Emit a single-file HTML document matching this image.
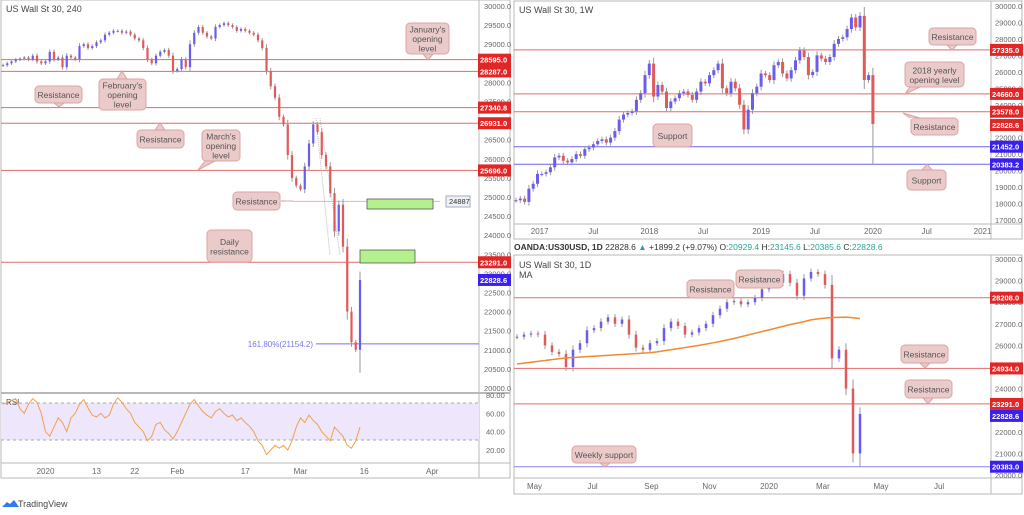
<!DOCTYPE html>
<html><head><meta charset="utf-8"><style>
body{margin:0;background:#fff;width:1024px;height:510px;overflow:hidden;font-family:"Liberation Sans",sans-serif}
svg text{font-family:"Liberation Sans",sans-serif}
</style></head><body>
<svg id="s" width="1024" height="510" viewBox="0 0 1024 510" xmlns="http://www.w3.org/2000/svg">
<rect width="1024" height="510" fill="#fff"/>
<g id="left">
  <rect x="1" y="0" width="509" height="478" fill="none" stroke="#b9b9b9"/>
  <line x1="479" y1="0" x2="479" y2="478" stroke="#b9b9b9"/>
  <line x1="1" y1="393" x2="510" y2="393" stroke="#b9b9b9" stroke-width="2"/>
  <line x1="1" y1="463" x2="510" y2="463" stroke="#b9b9b9"/>
  <rect x="1" y="403" width="478" height="37" fill="#eee6fb"/>
  <line x1="1" y1="403" x2="479" y2="403" stroke="#aaa" stroke-dasharray="3,3"/>
  <line x1="1" y1="440" x2="479" y2="440" stroke="#aaa" stroke-dasharray="3,3"/>
  <text x="6" y="12" font-size="9" fill="#444">US Wall St 30, 240</text>
  <text x="6" y="405" font-size="8" fill="#555">RSI</text>
</g>
<g id="tr">
  <rect x="514" y="1" width="508" height="238" fill="none" stroke="#b9b9b9"/>
  <line x1="991" y1="1" x2="991" y2="239" stroke="#b9b9b9"/>
  <line x1="514" y1="224" x2="1022" y2="224" stroke="#b9b9b9"/>
  <text x="519" y="13" font-size="9" fill="#444">US Wall St 30, 1W</text>
</g>
<g id="br">
  <text x="514" y="250" font-size="8.5" font-weight="bold" fill="#333">OANDA:US30USD, 1D <tspan font-weight="normal">22828.6 </tspan><tspan fill="#26a69a" font-weight="normal">▲</tspan><tspan font-weight="normal"> +1899.2 (+9.07%) O:</tspan><tspan fill="#26a69a" font-weight="normal">20929.4</tspan><tspan font-weight="normal"> H:</tspan><tspan fill="#26a69a" font-weight="normal">23145.6</tspan><tspan font-weight="normal"> L:</tspan><tspan fill="#26a69a" font-weight="normal">20385.6</tspan><tspan font-weight="normal"> C:</tspan><tspan fill="#26a69a" font-weight="normal">22828.6</tspan></text>
  <rect x="514" y="255" width="508" height="239" fill="none" stroke="#b9b9b9"/>
  <line x1="991" y1="255" x2="991" y2="494" stroke="#b9b9b9"/>
  <line x1="514" y1="478" x2="1022" y2="478" stroke="#b9b9b9"/>
  <text x="519" y="268" font-size="9" fill="#444">US Wall St 30, 1D</text>
  <text x="519" y="278" font-size="9" fill="#444">MA</text>
</g>
<g>
  <path d="M2 507 l5-5 3 2 4-4 5 7z" fill="#3179f5"/>
  <text x="18" y="507" font-size="9" fill="#444">TradingView</text>
</g>
</svg>
<script>
// ---------- data ----------
const h4Closes=[28450,28500,28550,28600,28620,28650,28600,28700,28550,28500,
28550,28800,28600,28650,28400,28700,28650,28600,28950,29000,
28900,28950,29050,29100,29250,29300,29350,29350,29300,29330,
29250,29150,29100,28900,28600,28500,28700,28800,28850,28700,28300,
28350,28600,28400,29000,29300,29450,29300,29200,29150,29450,
29500,29550,29500,29450,29350,29400,29350,29300,29250,29100,
28900,28300,27900,27600,27100,26900,26100,25500,25300,
25200,25800,26400,26900,26700,26100,25800,25100,24100,24800,23700,22000,21200,21000,22828];
const h4Rsi=[70,72,74,76,65,60,70,76,72,60,
40,35,45,55,50,40,55,60,70,75,
66,58,56,60,55,58,70,77,72,65,
60,50,45,40,30,35,48,50,42,38,32,
40,50,60,70,75,68,62,58,55,62,
65,60,56,58,52,55,50,46,40,30,
25,15,20,25,22,25,20,30,45,
55,50,58,52,48,40,35,30,45,40,35,25,22,30,45];
const h4Ticks=[20000,20500,21000,21500,22000,22500,23000,23500,24000,24500,25000,25500,26000,26500,27000,27500,28000,28500,29000,29500,30000];
const h4Levels=[28595,28287,27340,26931,25696,23291];
const h4TimeLabels=["2020","13","22","Feb","17","Mar","16","Apr"];
const h4TimeIdx=[10,22,31,41,57,70,85,101];
const rsiTicks=[20,40,60,80];

const wkCloses=[18200,18300,18100,18900,19200,19800,19800,19900,20200,20800,20900,20600,20500,20700,21000,20900,21300,21400,21600,21800,21900,21700,22000,22400,23100,23400,23500,23600,24300,24700,25800,26500,24500,25200,24800,23800,24200,24400,24700,24800,24600,24300,24800,25400,25300,25800,26100,26500,25000,24700,25400,25000,24000,22500,23700,24700,25100,25900,25800,25500,26400,26600,25900,25600,26100,26700,27300,26900,25800,26000,27000,26800,26600,26900,27700,28000,28100,28600,29300,28700,29400,25500,25800,22828];
const wkTicks=[17000,18000,19000,20000,21000,22000,23000,24000,25000,26000,27000,28000,29000,30000];
const wkLevelsRed=[27335,24660,23578];
const wkLevelsBlue=[21452,20383.2];
const wkTimeLabels=["2017","Jul","2018","Jul","2019","Jul","2020","Jul","2021"];
const wkTimeIdx=[5.5,18,31,43.5,57,69.5,83,95.5,108.5];

const dCloses=[26400,26500,26550,26500,26000,25700,25600,25000,25800,26100,26700,26800,27100,27300,27000,27200,26500,25900,25800,26100,26200,26800,27100,26900,26500,26600,26800,27000,27400,27700,28000,28050,27900,28000,28200,28600,28800,28900,29300,28900,28300,29100,29400,29300,28800,25400,25800,24000,21000,22828];
const dMA=[25140,25180,25220,25260,25300,25340,25380,25420,25440,25460,25480,25500,25520,25540,25560,25580,25600,25620,25640,25660,25700,25750,25800,25850,25900,25950,26000,26060,26120,26180,26250,26320,26400,26480,26560,26640,26720,26800,26880,26960,27030,27100,27180,27230,27260,27290,27300,27310,27280,27240];
const dTicks=[20000,21000,22000,23000,24000,25000,26000,27000,28000,29000,30000];
const dTimeLabels=["May","Jul","Sep","Nov","2020","Mar","May","Jul"];
const dTimeIdx=[2.5,10.8,19.2,27.5,36,43.7,52,60.3];

// ---------- helpers ----------
const NS="http://www.w3.org/2000/svg";
const svg=document.getElementById('s');
function el(tag,attrs,parent,txt){const e=document.createElementNS(NS,tag);for(const k in attrs)e.setAttribute(k,attrs[k]);if(txt!==undefined)e.textContent=txt;(parent||svg).appendChild(e);return e;}
const UP="#6b5cf0",DN="#e05a5a";

function candles(g,closes,xf,yf,w,name,lastLow,wk){
  for(let i=0;i<closes.length;i++){
    const o=i?closes[i-1]:closes[0],c=closes[i];
    const hi=Math.max(o,c)+Math.abs(c-o)*0.1+wk,lo=Math.min(o,c)-Math.abs(c-o)*0.1-wk;
    const col=c>=o?UP:DN;const x=xf(i);
    const wl=el('line',{x1:x,x2:x,y1:yf(hi),y2:yf(i===closes.length-1&&lastLow?lastLow:lo),stroke:'#999','stroke-width':1},g);
    
    
    const r=el('rect',{x:x-w/2,y:Math.min(yf(o),yf(c)),width:w,height:Math.max(1,Math.abs(yf(o)-yf(c))),fill:col},g);
    
    
  }
}
function tag(g,x,y,txt,fill){
  const r=el('rect',{x:x,y:y-6,width:33,height:12,fill:fill},g);
  
  
  const t=el('text',{x:x+2,y:y+3,'font-size':7.5,fill:'#fff','font-weight':'bold'},g,txt);
  
  
}
function callout(lines,x,y,w,h,tx,ty,bx,by){
  const g=el('g',{});
  
  
  el('path',{d:`M${bx-5} ${by} L${tx} ${ty} L${bx+5} ${by}`,fill:'#ebcaca',stroke:'#dba4a4'},g);
  el('rect',{x:x,y:y,width:w,height:h,rx:4,fill:'#ebcaca',stroke:'#dba4a4'},g);
  el('rect',{x:bx-5,y:Math.min(Math.max(by-1,y+1),y+h-3),width:10,height:2,fill:'#ebcaca'},g);
  lines.forEach((l,i)=>el('text',{x:x+w/2,y:y+h/2+3.5+(i-(lines.length-1)/2)*9.5,'font-size':8.5,fill:'#555','text-anchor':'middle'},g,l));
}
function hline(g,y,x1,x2,col,name){const l=el('line',{x1:x1,x2:x2,y1:y,y2:y,stroke:col,'stroke-width':1},g);}

// ---------- LEFT 4H ----------
{
const g=document.getElementById('left');
const yf=p=>6+(30000-p)*0.0382;
const xf=i=>3+i*4.25;
const ry=r=>395+(80-r)*(55/60);
h4Ticks.forEach(t=>{const tx=el('text',{x:484,y:yf(t)+3,'font-size':7.5,fill:'#666'},g,t.toFixed(1));});
rsiTicks.forEach(t=>{const tx=el('text',{x:486,y:ry(t)+3,'font-size':7.5,fill:'#666'},g,t.toFixed(2));});
h4TimeLabels.forEach((l,k)=>{const tx=el('text',{x:xf(h4TimeIdx[k]),y:474,'font-size':8,fill:'#666','text-anchor':'middle'},g,l);});
h4Levels.forEach(v=>hline(g,yf(v),1,479,'#e46a6a','h4-level-line'));
hline(g,yf(24887),293,440,'#efb0b0','h4-24887-line');
hline(g,yf(21154.2),316,479,'#7a73e8','fib-161-line');
const ft=el('text',{x:313,y:yf(21154.2)+3,'font-size':8,fill:'#7a73e8','text-anchor':'end'},g,'161.80%(21154.2)');

el('line',{x1:316,y1:118,x2:330,y2:255,stroke:'#bbb','stroke-dasharray':'1,1'},g);
el('line',{x1:320,y1:118,x2:340,y2:255,stroke:'#bbb','stroke-dasharray':'1,1'},g);
const z1=el('rect',{x:367,y:199,width:66,height:10,fill:'#b4f08c',stroke:'#444','stroke-width':0.7},g);
const z2=el('rect',{x:360,y:250,width:55,height:13,fill:'#b4f08c',stroke:'#444','stroke-width':0.7},g);
candles(g,h4Closes,xf,yf,2.2,'h4',20400,40);
let d='';h4Rsi.forEach((r,i)=>{d+=(i?'L':'M')+xf(i)+' '+ry(r);});
const rl=el('path',{d:d,fill:'none',stroke:'#f0a050','stroke-width':1},g);
tag(g,478,yf(28595),'28595.0','#e02626');tag(g,478,yf(28287),'28287.0','#e02626');tag(g,478,yf(27340),'27340.8','#e02626');
tag(g,478,yf(26931),'26931.0','#e02626');tag(g,478,yf(25696),'25696.0','#e02626');tag(g,478,yf(23291),'23291.0','#e02626');
tag(g,478,yf(22828.6),'22828.6','#3a1ff0');
const lb=el('rect',{x:446,y:196,width:24,height:11,fill:'#eef2f8',stroke:'#aab'},g);
el('text',{x:449,y:204,'font-size':7.5,fill:'#333'},g,'24887');
callout(["January's","opening","level"],406,23,43,31,428,60,428,54);
callout(["Resistance"],35,86,47,17,59,107,59,103);
callout(["February's","opening","level"],99,79,47,31,122,71,122,79);
callout(["Resistance"],137,130,47,18,160,123,160,130);
callout(["March's","opening","level"],202,130,38,31,198,170,210,161);
callout(["Resistance"],233,192,47,18,293,201,280,201);
callout(["Daily","resistance"],207,230,45,32,229,262,229,262);
}

// ---------- TOP RIGHT WEEKLY ----------
{
const g=document.getElementById('tr');
const yf=p=>6+(30000-p)*0.01646;
const xf=i=>516+i*4.3;
wkTicks.forEach(t=>{const tx=el('text',{x:995,y:yf(t)+3,'font-size':7.5,fill:'#666'},g,t.toFixed(1));});
wkTimeLabels.forEach((l,k)=>{const tx=el('text',{x:xf(wkTimeIdx[k]),y:234,'font-size':8,fill:'#666','text-anchor':'middle'},g,l);});
wkLevelsRed.forEach(v=>hline(g,yf(v),514,991,'#e46a6a','weekly-resistance-line'));
wkLevelsBlue.forEach(v=>hline(g,yf(v),514,991,'#6d63ee','weekly-support-line'));
candles(g,wkCloses,xf,yf,3,'weekly',20383,150);
tag(g,990,yf(27335),'27335.0','#e02626');tag(g,990,yf(24660),'24660.0','#e02626');tag(g,990,yf(23578),'23578.0','#e02626');
tag(g,990,yf(22828.6)+1,'22828.6','#e02626');tag(g,990,yf(21452),'21452.0','#3a1ff0');tag(g,990,yf(20383.2),'20383.2','#3a1ff0');
callout(["Resistance"],929,28,47,17,952,50,952,45);
callout(["2018 yearly","opening level"],905,62,59,25,905,94,915,87);
callout(["Resistance"],911,118,47,17,903,113,915,118);
callout(["Support"],653,124,39,23,672,147,672,147);
callout(["Support"],907,170,39,20,927,164,927,170);
}

// ---------- BOTTOM RIGHT DAILY ----------
{
const g=document.getElementById('br');
const yf=p=>259+(30000-p)*0.0216;
const xf=i=>517+i*7.0;
dTicks.forEach(t=>{const tx=el('text',{x:995,y:yf(t)+3,'font-size':7.5,fill:'#666'},g,t.toFixed(1));});
dTimeLabels.forEach((l,k)=>{const tx=el('text',{x:xf(dTimeIdx[k]),y:489,'font-size':8,fill:'#666','text-anchor':'middle'},g,l);});
hline(g,yf(28208),514,991,'#e46a6a','daily-resistance-line');
hline(g,yf(24934),514,991,'#e46a6a','daily-resistance-line');
hline(g,yf(23291),514,991,'#e46a6a','daily-resistance-line');
hline(g,yf(20383),514,991,'#8a84f0','weekly-support-line');
candles(g,dCloses,xf,yf,2.5,'daily',20385.6,120);
let d='';dMA.forEach((v,i)=>{d+=(i?'L':'M')+xf(i)+' '+yf(v);});
const ma=el('path',{d:d,fill:'none',stroke:'#f08a30','stroke-width':1.5},g);
tag(g,990,yf(28208),'28208.0','#e02626');tag(g,990,yf(24934),'24934.0','#e02626');tag(g,990,yf(23291),'23291.0','#e02626');
tag(g,990,yf(22828.6)+2,'22828.6','#3a1ff0');tag(g,990,yf(20383),'20383.0','#3a1ff0');
callout(["Resistance"],687,280,47,18,710,298,710,298);
callout(["Resistance"],736,270,47,18,760,288,760,288);
callout(["Resistance"],901,345,47,18,925,368,925,363);
callout(["Resistance"],905,380,47,18,928,404,928,398);
callout(["Weekly support"],572,446,64,17,605,467,605,463);
}
</script>
</body></html>
